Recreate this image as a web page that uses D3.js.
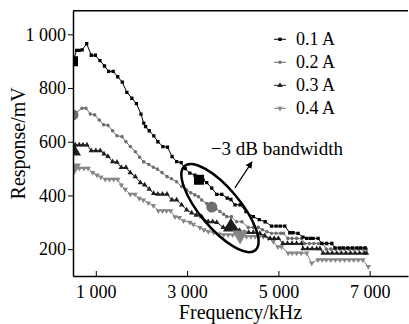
<!DOCTYPE html>
<html>
<head>
<meta charset="utf-8">
<script src="https://cdn.jsdelivr.net/npm/d3@7"></script>
<style>
  html, body { margin: 0; padding: 0; background: #fff; }
  svg { display: block; font-family: "Liberation Serif", "Times New Roman", serif; }
</style>
</head>
<body>
<svg id="chart" width="409" height="324"></svg>
<script>
// series labels + colours
const seriesNames = ["0.1 A", "0.2 A", "0.3 A", "0.4 A"];
const seriesColors = ["#000", "#6e6e6e", "#1e1e1e", "#858585"];

// [frequency kHz, response mV]
const s01 = [[500,900],[580,940],[640,940],[700,942],[800,965],[900,922],[990,922],[1090,902],[1190,882],[1280,862],[1380,862],[1480,842],[1580,822],[1680,784],[1790,762],[1890,742],[1990,703],[2050,669],[2090,656],[2170,641],[2270,622],[2360,600],[2470,582],[2570,580],[2670,545],[2770,526],[2870,522],[2960,500],[3060,483],[3170,476],[3260,465],[3350,458],[3430,448],[3540,427],[3650,404],[3760,404],[3880,390],[3960,385],[4050,365],[4160,365],[4290,340],[4450,321],[4580,310],[4710,302],[4850,286],[4950,286],[5040,286],[5140,286],[5250,261],[5320,261],[5430,259],[5540,245],[5620,240],[5700,240],[5760,240],[5870,240],[5950,221],[6060,221],[6170,221],[6240,205],[6340,205],[6420,205],[6520,205],[6620,205],[6720,205],[6800,205],[6900,205]];
const s02 = [[500,700],[697,725],[784,725],[880,703],[975,700],[1075,681],[1172,663],[1266,661],[1369,641],[1463,622],[1573,619],[1660,600],[1755,582],[1865,563],[1960,542],[2050,525],[2160,515],[2260,505],[2350,498],[2450,485],[2560,470],[2660,462],[2770,451],[2880,433],[2990,420],[3080,410],[3170,402],[3250,395],[3320,383],[3430,370],[3537,358],[3630,350],[3720,340],[3800,330],[3870,321],[3970,321],[4085,302],[4200,302],[4340,281],[4450,281],[4560,281],[4650,272],[4750,265],[4850,259],[4950,259],[5050,259],[5110,259],[5210,240],[5300,240],[5400,240],[5510,240],[5580,221],[5680,221],[5780,221],[5880,221],[5975,221],[6050,200],[6150,200],[6250,200],[6350,200],[6450,200],[6550,200],[6650,200],[6750,200],[6850,200],[6930,200]];
const s03 = [[500,566],[550,588],[637,588],[718,588],[806,588],[900,567],[1000,567],[1097,567],[1180,555],[1266,545],[1369,526],[1463,524],[1558,504],[1660,504],[1755,485],[1865,470],[1975,448],[2070,439],[2170,423],[2267,408],[2360,405],[2460,405],[2560,405],[2668,383],[2770,383],[2880,365],[2990,346],[3100,335],[3200,327],[3320,321],[3463,302],[3560,302],[3650,300],[3792,281],[3880,281],[3960,283],[4050,281],[4150,270],[4250,262],[4350,262],[4450,262],[4595,259],[4700,250],[4820,240],[4910,240],[5000,240],[5100,221],[5200,221],[5300,221],[5400,221],[5510,221],[5540,202],[5640,202],[5740,202],[5840,202],[5910,202],[5980,185],[6080,185],[6180,185],[6280,185],[6380,185],[6480,185],[6580,185],[6680,185],[6780,185],[6880,185],[6930,185]];
const s04 = [[500,502],[550,501],[640,501],[740,501],[830,501],[930,485],[1025,476],[1110,468],[1207,460],[1300,460],[1390,460],[1480,460],[1558,439],[1645,423],[1755,404],[1858,404],[1950,389],[2040,383],[2150,372],[2260,362],[2370,343],[2460,343],[2550,343],[2640,343],[2735,320],[2830,318],[2920,305],[3060,300],[3135,292],[3280,280],[3370,272],[3463,265],[3580,262],[3700,256],[3800,253],[3900,253],[4000,253],[4157,253],[4300,247],[4400,247],[4490,247],[4580,247],[4670,247],[4780,240],[4890,228],[4990,209],[5070,209],[5215,185],[5300,185],[5400,185],[5500,185],[5620,185],[5730,148],[5870,160],[5960,160],[6050,160],[6150,160],[6250,160],[6350,160],[6450,160],[6550,160],[6650,160],[6750,160],[6850,160],[6970,135]];
const allSeries = [s01, s02, s03, s04];

// reference level at the axis and the -3 dB point of each series
const refPoints = [[500,900],[500,700],[500,566],[500,502]];
const bwPoints = [[3260,458],[3540,357],[3960,283],[4160,252]];

const xTicks = [1000, 3000, 5000, 7000];
const yTicks = [200, 400, 600, 800, 1000];

const svg = d3.select("#chart");
const mLeft = 73, mRight = 408, mTop = 10.7, mBottom = 276;

const x = d3.scaleLinear().domain([500, 7840]).range([mLeft, mRight]);
const y = d3.scaleLinear().domain([100, 1088]).range([mBottom, mTop]);

const fmt = d3.formatLocale({decimal: ".", thousands: " ", grouping: [3], currency: ["", ""]}).format(",");

const symbols = [d3.symbolSquare, d3.symbolCircle, d3.symbolTriangle, d3.symbolTriangle];
const rotations = [0, 0, 0, 180];
const smallSizes = [11, 10, 13, 13];
const bigSizes = [100, 95, 110, 110];

const defs = svg.append("defs");
defs.append("clipPath").attr("id", "plot")
  .append("rect")
  .attr("x", mLeft).attr("y", mTop)
  .attr("width", mRight - mLeft).attr("height", mBottom - mTop);

const plot = svg.append("g").attr("clip-path", "url(#plot)");

const line = d3.line().x(d => x(d[0])).y(d => y(d[1]));

// draw the lines and small markers, back to front
[3, 2, 1, 0].forEach(i => {
  plot.append("path")
    .datum(allSeries[i])
    .attr("d", line)
    .attr("fill", "none")
    .attr("stroke", seriesColors[i])
    .attr("stroke-width", 1);

  plot.selectAll(".m" + i)
    .data(allSeries[i])
    .enter()
    .append("path")
    .attr("class", "m" + i)
    .attr("d", d3.symbol(symbols[i], smallSizes[i]))
    .attr("transform", d => "translate(" + x(d[0]) + "," + y(d[1]) + ")rotate(" + rotations[i] + ")")
    .attr("fill", seriesColors[i]);
});

// big markers
[refPoints, bwPoints].forEach(pts => {
  plot.selectAll(null)
    .data(pts)
    .enter()
    .append("path")
    .attr("d", (d, i) => d3.symbol(symbols[i], bigSizes[i])())
    .attr("transform", (d, i) => "translate(" + x(d[0]) + "," + y(d[1]) + ")rotate(" + rotations[i] + ")")
    .attr("fill", (d, i) => seriesColors[i]);
});

// ellipse and arrow around the -3 dB points
const ellipseCenter = [3720, 353];
svg.append("ellipse")
  .attr("cx", 0).attr("cy", 0)
  .attr("rx", 55).attr("ry", 20)
  .attr("transform", "translate(" + x(ellipseCenter[0]) + "," + y(ellipseCenter[1]) + ")rotate(50)")
  .attr("fill", "none")
  .attr("stroke", "#000")
  .attr("stroke-width", 2.5);

defs.append("marker")
  .attr("id", "head")
  .attr("viewBox", "0 0 10 10")
  .attr("refX", 9).attr("refY", 5)
  .attr("markerWidth", 7).attr("markerHeight", 7)
  .attr("markerUnits", "userSpaceOnUse")
  .attr("orient", "auto")
  .append("path").attr("d", "M0,0L10,5L0,10Z").attr("fill", "#000");

const arrow = [[4048, 428], [4421, 525]];
svg.append("line")
  .attr("x1", x(arrow[0][0])).attr("y1", y(arrow[0][1]))
  .attr("x2", x(arrow[1][0])).attr("y2", y(arrow[1][1]))
  .attr("stroke", "#000")
  .attr("stroke-width", 1.2)
  .attr("marker-end", "url(#head)");

svg.append("text")
  .attr("x", x(3520)).attr("y", y(551))
  .attr("font-size", 19)
  .text("\u22123 dB bandwidth");

// axes
const xAxis = svg.append("g")
  .attr("transform", "translate(0," + mBottom + ")")
  .call(d3.axisBottom(x).tickValues(xTicks).tickFormat(fmt).tickSizeInner(-5).tickSizeOuter(0).tickPadding(9));

const yAxis = svg.append("g")
  .attr("transform", "translate(" + mLeft + ",0)")
  .call(d3.axisLeft(y).tickValues(yTicks).tickFormat(fmt).tickSizeInner(5).tickSizeOuter(0).tickPadding(2));

[xAxis, yAxis].forEach(a => {
  a.attr("font-family", null).attr("font-size", 18);
  a.select(".domain").attr("stroke-width", 1.5);
  a.selectAll("text").attr("fill", "#000");
});

svg.append("line")
  .attr("x1", mLeft).attr("x2", mRight)
  .attr("y1", mTop).attr("y2", mTop)
  .attr("stroke", "#000")
  .attr("stroke-width", 1.5);

svg.append("text")
  .attr("x", (mLeft + mRight) / 2)
  .attr("y", 319)
  .attr("text-anchor", "middle")
  .attr("font-size", 20)
  .text("Frequency/kHz");

svg.append("text")
  .attr("transform", "translate(25," + ((mTop + mBottom) / 2) + ")rotate(-90)")
  .attr("text-anchor", "middle")
  .attr("font-size", 20)
  .text("Response/mV");

// legend
const legend = svg.append("g");
seriesNames.forEach((name, i) => {
  const ly = 39.3 + i * 23;
  legend.append("line")
    .attr("x1", 274).attr("x2", 286)
    .attr("y1", ly).attr("y2", ly)
    .attr("stroke", seriesColors[i]).attr("stroke-width", 1);
  legend.append("path")
    .attr("d", d3.symbol(symbols[i], smallSizes[i]))
    .attr("transform", "translate(280," + ly + ")rotate(" + rotations[i] + ")")
    .attr("fill", seriesColors[i]);
  legend.append("text")
    .attr("x", 296).attr("y", ly + 6)
    .attr("font-size", 18)
    .text(name);
});
</script>
</body>
</html>
